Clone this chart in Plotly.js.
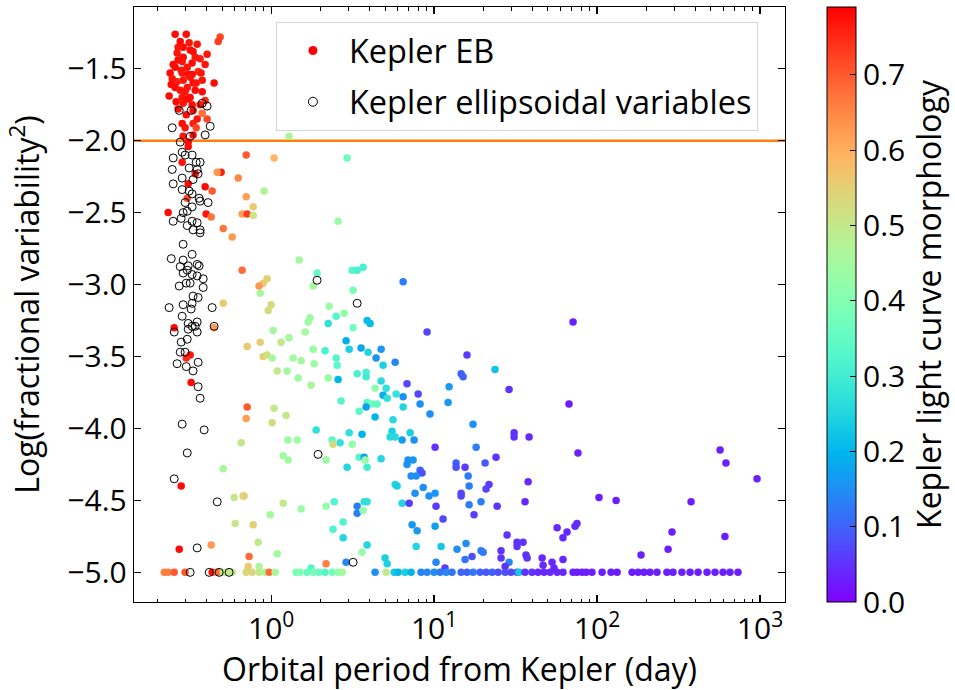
<!DOCTYPE html>
<html>
<head>
<meta charset="utf-8">
<script src="https://cdn.plot.ly/plotly-3.0.1.min.js"></script>
<style>html,body{margin:0;padding:0;background:#fff;}#chart{width:955px;height:690px;}</style>
</head>
<body>
<div id="chart"></div>
<script>
// Kepler EB: log10(orbital period / day), Log(fractional variability^2), morphology
var ebLogP = [
-0.589,-0.521,-0.313,-0.325,-0.558,-0.503,-0.454,-0.540,-0.479,-0.577,
-0.393,-0.540,-0.436,-0.546,-0.485,-0.405,-0.589,-0.515,-0.448,-0.620,
-0.546,-0.485,-0.607,-0.540,-0.423,-0.577,-0.479,-0.350,-0.515,-0.589,
-0.423,-0.528,-0.626,-0.546,-0.497,-0.583,-0.540,-0.485,-0.479,-0.423,
-0.393,-0.454,-0.479,-0.546,-0.528,-0.479,-0.540,-0.509,-0.509,-0.571,
-0.466,-0.509,-0.558,-0.466,-0.571,-0.436,-0.521,-0.497,-0.552,-0.613,
-0.405,-0.460,-0.497,-0.601,-0.460,-0.515,-0.571,-0.430,
-0.546,-0.466,-0.509,-0.405,-0.515,-0.632,-0.399,-0.368,-0.307,-0.331,
-0.153,-0.202,-0.362,-0.153,-0.110,-0.178,-0.147,-0.110,-0.294,-0.239,
-0.178,0.018,0.466,0.110,-0.043,0.411,0.172,0.282,0.497,0.528,
0.564,0.810,0.258,-0.025,-0.049,-0.074,-0.067,0.503,0.000,-0.018,
0.356,0.399,0.448,0.239,0.227,0.350,0.589,0.607,0.503,0.957,
0.012,0.209,-0.067,-0.147,0.061,0.110,0.258,0.331,0.460,0.479,
0.552,0.595,0.675,0.644,0.761,0.687,-0.049,-0.025,0.006,0.135,
0.184,0.264,0.399,0.405,-0.294,-0.350,-0.595,-0.497,-0.521,-0.491,
-0.552,-0.564,0.037,0.098,0.166,0.245,0.350,0.411,0.528,0.583,
0.583,0.675,0.706,0.834,0.638,0.687,0.712,0.767,0.810,0.902,
0.810,0.914,0.975,0.429,0.589,0.620,0.650,0.583,0.540,0.638,
0.748,-0.147,-0.153,0.018,0.006,0.092,0.276,0.104,0.160,0.374,
0.423,0.497,0.479,0.558,0.380,0.742,0.730,0.761,0.804,0.853,
0.877,1.006,-0.184,0.074,0.104,0.337,0.540,0.571,0.577,0.589,
0.466,0.675,0.840,0.871,0.834,0.914,0.926,0.859,0.890,0.761,
0.773,0.883,0.933,0.969,1.006,0.804,0.847,1.012,-0.172,0.074,
0.184,0.337,0.387,0.528,0.571,0.589,0.528,0.564,-0.006,-0.110,
0.442,0.380,0.865,0.896,1.006,-0.080,0.442,0.589,0.890,-0.135,
0.037,0.558,0.699,0.337,0.460,1.012,-0.141,-0.074,-0.227,-0.166,
-0.221,-0.294,-0.368,0.245,0.712,
1.853,1.202,1.374,1.166,1.178,1.092,1.460,1.086,1.828,1.239,
1.491,1.491,1.583,1.258,1.883,2.755,2.791,2.982,1.135,1.135,
1.190,1.313,1.380,1.209,1.215,1.337,1.319,1.577,1.166,1.166,
1.288,1.215,1.387,1.558,1.245,1.055,2.012,2.117,2.577,1.755,
1.865,1.877,1.816,1.791,1.448,1.509,1.546,1.509,1.043,1.141,
1.196,1.288,1.301,1.233,1.190,1.411,1.411,1.564,1.571,1.460,
1.436,1.663,1.724,1.791,2.460,2.436,2.270,2.785,1.067,1.669,
1.736
];
var ebLogV = [
-1.26,-1.26,-1.28,-1.31,-1.31,-1.32,-1.33,-1.35,-1.38,-1.39,
-1.40,-1.42,-1.43,-1.45,-1.46,-1.47,-1.49,-1.49,-1.52,-1.53,
-1.53,-1.54,-1.57,-1.58,-1.58,-1.59,-1.60,-1.60,-1.63,-1.63,
-1.66,-1.66,-1.69,-1.70,-1.70,-1.73,-1.74,-1.75,-1.79,-1.81,
-1.85,-1.85,-1.88,-1.88,-1.91,-1.96,-1.97,-2.01,-2.04,-1.44,
-1.42,-1.54,-1.65,-1.65,-1.78,-1.75,-1.82,-1.37,-1.51,-1.61,
-1.72,-1.91,-1.56,-1.47,-1.60,-1.71,-1.35,-1.53,
-2.15,-2.23,-2.30,-2.32,-2.40,-2.50,-2.51,-2.53,-2.22,-2.22,
-2.10,-2.26,-2.35,-2.39,-2.46,-2.51,-2.51,-2.52,-2.61,-2.67,
-2.90,-2.12,-2.12,-1.97,-2.35,-2.56,-2.83,-2.92,-2.90,-2.90,
-2.88,-2.98,-3.01,-2.96,-2.99,-3.01,-3.06,-3.04,-3.14,-3.18,
-3.15,-3.22,-3.20,-3.23,-3.26,-3.27,-3.25,-3.27,-3.30,-3.33,
-3.32,-3.33,-3.40,-3.43,-3.40,-3.37,-3.45,-3.46,-3.39,-3.45,
-3.44,-3.47,-3.45,-3.51,-3.54,-3.56,-3.50,-3.49,-3.51,-3.51,
-3.53,-3.55,-3.51,-3.56,-3.13,-3.30,-3.30,-3.49,-3.51,-3.68,
-4.40,-4.84,-3.60,-3.60,-3.65,-3.70,-3.65,-3.66,-3.62,-3.61,
-3.64,-3.67,-3.72,-3.69,-3.72,-3.77,-3.79,-3.76,-3.78,-3.76,
-3.85,-3.83,-3.90,-3.81,-3.82,-3.83,-3.83,-3.85,-3.88,-3.92,
-3.94,-3.85,-3.93,-3.86,-3.96,-3.91,-4.01,-4.08,-4.08,-4.08,
-4.10,-4.11,-4.03,-4.04,-4.11,-4.02,-4.06,-4.06,-4.08,-4.03,
-4.08,-4.13,-4.10,-4.19,-4.22,-4.22,-4.20,-4.20,-4.22,-4.27,
-4.27,-4.21,-4.22,-4.22,-4.25,-4.29,-4.31,-4.33,-4.33,-4.39,
-4.40,-4.45,-4.41,-4.47,-4.45,-4.52,-4.52,-4.54,-4.47,-4.52,
-4.56,-4.54,-4.51,-4.54,-4.51,-4.51,-4.59,-4.57,-4.60,-4.67,
-4.65,-4.70,-4.67,-4.71,-4.68,-4.79,-4.76,-4.81,-4.82,-4.89,
-4.87,-4.86,-4.90,-4.94,-4.93,-4.93,-4.96,-4.96,-4.48,-4.47,
-4.66,-4.28,-4.81,-4.97,-4.94,
-3.26,-3.49,-3.59,-3.62,-3.64,-3.71,-3.73,-3.82,-3.83,-3.97,
-4.03,-4.06,-4.06,-4.13,-4.17,-4.15,-4.24,-4.35,-4.24,-4.27,
-4.27,-4.24,-4.20,-4.33,-4.40,-4.39,-4.42,-4.37,-4.45,-4.47,
-4.51,-4.53,-4.54,-4.51,-4.60,-4.63,-4.48,-4.50,-4.51,-4.69,
-4.68,-4.66,-4.72,-4.76,-4.74,-4.79,-4.79,-4.82,-4.82,-4.84,
-4.80,-4.85,-4.86,-4.89,-4.91,-4.85,-4.90,-4.88,-4.90,-4.93,
-4.96,-4.90,-4.93,-4.91,-4.72,-4.84,-4.88,-4.75,-4.97,-4.95,
-4.97
];
var ebMorph = [
0.78,0.78,0.72,0.73,0.78,0.77,0.77,0.78,0.78,0.77,
0.77,0.78,0.76,0.77,0.78,0.77,0.78,0.77,0.74,0.78,
0.77,0.78,0.77,0.77,0.77,0.76,0.78,0.78,0.77,0.78,
0.78,0.77,0.78,0.77,0.78,0.78,0.77,0.78,0.78,0.68,
0.72,0.77,0.76,0.78,0.77,0.78,0.77,0.78,0.78,0.78,
0.77,0.78,0.77,0.78,0.78,0.77,0.78,0.78,0.77,0.78,
0.75,0.72,0.77,0.78,0.77,0.78,0.77,0.77,
0.77,0.77,0.78,0.78,0.72,0.78,0.77,0.67,0.76,0.63,
0.70,0.65,0.70,0.62,0.56,0.62,0.73,0.51,0.67,0.63,
0.68,0.59,0.37,0.47,0.47,0.44,0.45,0.36,0.33,0.31,
0.31,0.13,0.45,0.55,0.56,0.63,0.46,0.38,0.53,0.53,
0.44,0.33,0.42,0.44,0.44,0.27,0.21,0.21,0.37,0.07,
0.45,0.45,0.55,0.56,0.50,0.45,0.44,0.31,0.19,0.24,
0.18,0.25,0.16,0.15,0.14,0.24,0.55,0.52,0.46,0.45,
0.45,0.44,0.33,0.34,0.56,0.63,0.78,0.77,0.75,0.78,
0.78,0.78,0.50,0.45,0.44,0.46,0.43,0.20,0.31,0.31,
0.30,0.26,0.27,0.07,0.42,0.19,0.27,0.28,0.15,0.07,
0.25,0.15,0.15,0.33,0.34,0.36,0.35,0.17,0.34,0.20,
0.26,0.70,0.62,0.50,0.53,0.50,0.27,0.44,0.44,0.34,
0.27,0.42,0.27,0.20,0.53,0.24,0.26,0.26,0.17,0.24,
0.15,0.05,0.50,0.45,0.45,0.44,0.33,0.17,0.43,0.30,
0.25,0.25,0.15,0.16,0.15,0.10,0.08,0.15,0.15,0.25,
0.24,0.15,0.15,0.15,0.16,0.25,0.06,0.06,0.55,0.50,
0.44,0.43,0.32,0.13,0.27,0.27,0.13,0.42,0.45,0.55,
0.32,0.32,0.16,0.16,0.17,0.50,0.25,0.25,0.25,0.68,
0.45,0.42,0.24,0.66,0.14,0.14,0.56,0.46,0.50,0.55,
0.51,0.46,0.63,0.33,0.24,
0.03,0.06,0.22,0.10,0.10,0.16,0.05,0.16,0.03,0.15,
0.05,0.05,0.04,0.13,0.03,0.03,0.03,0.03,0.10,0.08,
0.06,0.09,0.05,0.13,0.13,0.06,0.07,0.04,0.07,0.07,
0.13,0.13,0.05,0.04,0.06,0.07,0.03,0.03,0.03,0.04,
0.04,0.04,0.04,0.04,0.05,0.05,0.05,0.05,0.23,0.15,
0.15,0.13,0.13,0.08,0.12,0.05,0.05,0.05,0.05,0.14,
0.05,0.04,0.04,0.04,0.03,0.03,0.03,0.03,0.06,0.04,
0.04
];
// Kepler EB points sitting at the floor value
var floorLogP = [
-0.656,-0.632,-0.595,-0.528,-0.362,-0.331,-0.294,-0.270,-0.239,-0.153,
-0.117,-0.074,-0.037,-0.012,0.025,0.153,0.178,0.221,0.258,0.294,
0.331,0.374,0.411,0.436,0.638,0.706,0.755,0.779,0.822,0.859,
0.920,0.957,1.000,1.037,1.074,1.110,1.166,1.202,1.239,1.282,
1.319,1.356,1.393,1.436,1.472,1.509,1.521,1.558,1.601,1.638,
1.675,1.712,1.755,1.791,1.853,1.877,1.908,1.933,1.969,2.031,
2.086,2.123,2.215,2.252,2.288,2.325,2.368,2.429,2.466,2.521,
2.571,2.620,2.675,2.724,2.773,2.816,2.865
];
var floorLogV = [
-5.0,-5.0,-5.0,-5.0,-5.0,-5.0,-5.0,-5.0,-5.0,-5.0,
-5.0,-5.0,-5.0,-5.0,-5.0,-5.0,-5.0,-5.0,-5.0,-5.0,
-5.0,-5.0,-5.0,-5.0,-5.0,-5.0,-5.0,-5.0,-5.0,-5.0,
-5.0,-5.0,-5.0,-5.0,-5.0,-5.0,-5.0,-5.0,-5.0,-5.0,
-5.0,-5.0,-5.0,-5.0,-5.0,-5.0,-5.0,-5.0,-5.0,-5.0,
-5.0,-5.0,-5.0,-5.0,-5.0,-5.0,-5.0,-5.0,-5.0,-5.0,
-5.0,-5.0,-5.0,-5.0,-5.0,-5.0,-5.0,-5.0,-5.0,-5.0,
-5.0,-5.0,-5.0,-5.0,-5.0,-5.0,-5.0
];
var floorMorph = [
0.66,0.66,0.70,0.70,0.78,0.68,0.50,0.50,0.50,0.54,
0.54,0.50,0.47,0.68,0.46,0.38,0.40,0.36,0.38,0.36,
0.33,0.38,0.42,0.45,0.15,0.50,0.23,0.20,0.24,0.20,
0.14,0.14,0.15,0.12,0.14,0.12,0.10,0.10,0.12,0.10,
0.09,0.10,0.08,0.08,0.07,0.08,0.23,0.05,0.05,0.04,
0.04,0.04,0.04,0.04,0.03,0.03,0.03,0.03,0.03,0.03,
0.03,0.03,0.03,0.03,0.03,0.03,0.03,0.03,0.03,0.03,
0.03,0.03,0.03,0.03,0.03,0.03,0.03
];
// Kepler ellipsoidal variables
var ellLogP = [
-0.423,-0.393,-0.564,-0.491,-0.374,-0.607,-0.405,-0.558,-0.497,-0.601,
-0.546,-0.528,-0.485,-0.460,-0.436,-0.607,-0.503,-0.454,-0.546,-0.479,
-0.448,-0.601,-0.546,-0.503,-0.485,-0.442,-0.528,-0.436,-0.387,-0.485,
-0.515,-0.540,-0.601,-0.552,-0.485,-0.454,-0.515,-0.436,-0.479,-0.436,
-0.540,-0.485,-0.613,-0.540,-0.558,-0.509,-0.454,-0.442,-0.540,-0.515,
-0.485,-0.454,-0.417,-0.564,-0.521,-0.497,-0.417,-0.479,-0.448,-0.540,
-0.485,-0.626,-0.362,-0.491,-0.546,-0.509,-0.485,-0.466,-0.509,-0.454,
-0.454,-0.350,-0.595,-0.552,-0.515,-0.558,-0.528,-0.577,-0.521,-0.448,
-0.479,-0.448,-0.436,-0.546,-0.411,-0.515,-0.595,-0.331,-0.454,-0.497,
-0.380,-0.319,-0.258,0.282,0.528,0.288,0.503
];
var ellLogV = [
-1.74,-1.76,-1.79,-1.79,-1.90,-1.91,-1.96,-2.01,-1.97,-2.12,
-2.08,-2.10,-2.10,-2.15,-2.15,-2.20,-2.19,-2.20,-2.26,-2.27,
-2.23,-2.30,-2.34,-2.35,-2.37,-2.40,-2.43,-2.42,-2.43,-2.46,
-2.49,-2.50,-2.56,-2.54,-2.56,-2.57,-2.59,-2.62,-2.62,-2.64,
-2.72,-2.79,-2.82,-2.83,-2.875,-2.87,-2.86,-2.87,-2.92,-2.90,
-2.93,-2.94,-2.96,-3.01,-2.99,-2.99,-3.02,-3.08,-3.09,-3.14,
-3.13,-3.16,-3.16,-3.17,-3.22,-3.27,-3.29,-3.29,-3.31,-3.33,
-3.26,-3.29,-3.33,-3.40,-3.38,-3.47,-3.47,-3.55,-3.57,-3.54,
-3.60,-3.71,-3.79,-3.97,-4.01,-4.17,-4.35,-4.51,-4.83,-5.0,
-5.0,-5.0,-5.0,-2.97,-3.13,-4.18,-4.93
];

var xTickVals = [1, 10, 100, 1000];
var xTickText = ['10<sup>0</sup>', '10<sup>1</sup>', '10<sup>2</sup>', '10<sup>3</sup>'];
var yTickVals = [-5.0, -4.5, -4.0, -3.5, -3.0, -2.5, -2.0, -1.5];
var cbTickVals = [0.0, 0.1, 0.2, 0.3, 0.4, 0.5, 0.6, 0.7];
var thresholdLogV = -2.0;

function toPeriod(a) { return a.map(function (v) { return Math.pow(10, v); }); }

// matplotlib "rainbow" colormap
var rainbow = [];
for (var i = 0; i <= 20; i++) {
  var t = i / 20;
  var r = Math.min(1, Math.abs(2 * t - 0.5));
  var g = Math.sin(Math.PI * t);
  var b = Math.cos(Math.PI * t / 2);
  rainbow.push([t, 'rgb(' + Math.round(r * 255) + ',' + Math.round(g * 255) + ',' + Math.round(Math.max(0, b) * 255) + ')']);
}

var minorVals = [];
for (var d = -1; d <= 3; d++) {
  for (var k = 2; k <= 9; k++) minorVals.push(k * Math.pow(10, d));
}

var FONT = 'Open Sans, Noto Sans, DejaVu Sans, sans-serif';
var TICK = 30, TITLE = 32;
var ebX = toPeriod(ebLogP.concat(floorLogP));
var ebY = ebLogV.concat(floorLogV);
var ebC = ebMorph.concat(floorMorph);

var traces = [
  {
    type: 'scatter', mode: 'markers', x: ebX, y: ebY, showlegend: false, hoverinfo: 'x+y',
    marker: {
      size: 7.5, color: ebC, colorscale: rainbow, cmin: 0, cmax: 0.79,
      line: {width: 0},
      colorbar: {
        x: 1.0645, xanchor: 'left', xpad: 0, ypad: 0, y: 0.5, yanchor: 'middle', len: 1.0, lenmode: 'fraction',
        thickness: 29, outlinewidth: 1, outlinecolor: '#000',
        tickmode: 'array', tickvals: cbTickVals, tickformat: '.1f',
        ticks: 'inside', ticklen: 6, tickcolor: '#000',
        tickfont: {family: FONT, size: TICK, color: '#000'},
        title: {text: 'Kepler light curve morphology', side: 'right', font: {family: FONT, size: TITLE, color: '#000'}}
      }
    }
  },
  {
    type: 'scatter', mode: 'markers', x: toPeriod(ellLogP), y: ellLogV, showlegend: false,
    marker: {size: 8, color: 'rgba(0,0,0,0)', line: {color: '#000', width: 1}}
  },
  {
    type: 'scatter', mode: 'markers', x: [null], y: [null], name: 'Kepler EB', legendgroup: 'a',
    marker: {size: 9, color: '#ff0000'}
  },
  {
    type: 'scatter', mode: 'markers', x: [null], y: [null], name: 'Kepler ellipsoidal variables', legendgroup: 'b',
    marker: {size: 9, color: 'rgba(0,0,0,0)', line: {color: '#000', width: 1}}
  }
];

var layout = {
  width: 955, height: 690,
  margin: {l: 134, r: 170, t: 7, b: 88, autoexpand: false},
  paper_bgcolor: '#fff', plot_bgcolor: '#fff',
  font: {family: FONT, color: '#000'},
  xaxis: {
    type: 'log', range: [Math.log10(0.144), Math.log10(1424)],
    tickmode: 'array', tickvals: xTickVals, ticktext: xTickText,
    ticks: 'inside', ticklen: 7, tickwidth: 1.2, tickcolor: '#000',
    minor: {tickmode: 'array', tickvals: minorVals, ticks: 'inside', ticklen: 3.5, tickwidth: 1, tickcolor: '#000', showgrid: false},
    showline: true, linecolor: '#000', linewidth: 1.3, mirror: 'allticks',
    showgrid: false, zeroline: false,
    tickfont: {family: FONT, size: TICK},
    title: {text: 'Orbital period from Kepler (day)', font: {family: FONT, size: TITLE}, standoff: 2}
  },
  yaxis: {
    range: [-5.206, -1.071],
    tickmode: 'array', tickvals: yTickVals, tickformat: '.1f',
    ticks: 'inside', ticklen: 7, tickwidth: 1.2, tickcolor: '#000',
    showline: true, linecolor: '#000', linewidth: 1.3, mirror: 'allticks',
    showgrid: false, zeroline: false,
    tickfont: {family: FONT, size: TICK},
    title: {text: 'Log(fractional variability<sup>2</sup>)', font: {family: FONT, size: TITLE}, standoff: 18}
  },
  shapes: [{
    type: 'line', xref: 'paper', x0: 0, x1: 1, yref: 'y', y0: thresholdLogV, y1: thresholdLogV,
    line: {color: '#ff7f0e', width: 2.5}, layer: 'below'
  }],
  legend: {
    x: 0.218, y: 0.975, xanchor: 'left', yanchor: 'top',
    bgcolor: 'rgba(255,255,255,0.85)', bordercolor: '#d4d4d4', borderwidth: 1,
    font: {family: FONT, size: 32.5, color: '#000'},
    traceorder: 'grouped', tracegroupgap: 6, itemwidth: 62
  }
};

Plotly.newPlot('chart', traces, layout, {displayModeBar: false, staticPlot: true});
</script>
</body>
</html>
